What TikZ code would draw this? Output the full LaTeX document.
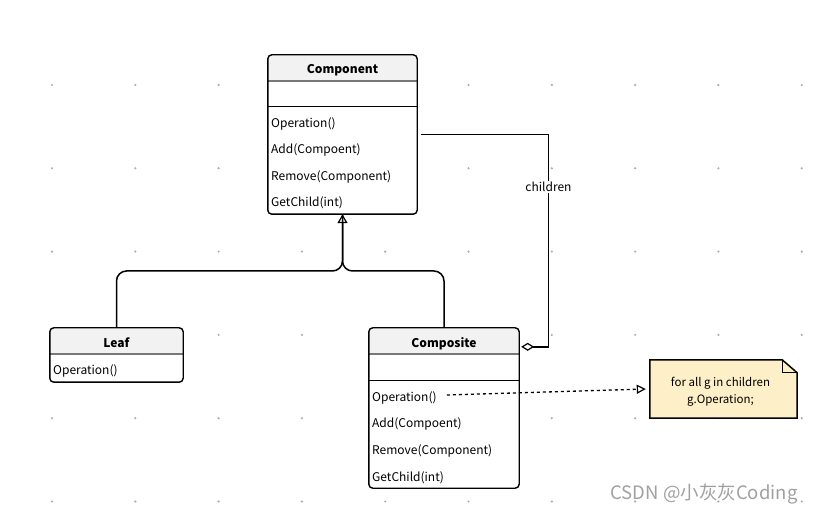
\documentclass[tikz,border=0pt]{standalone}
\usepackage{fontspec}
\setmainfont{Noto Sans CJK SC}
\usetikzlibrary{arrows.meta,calc}
\definecolor{headgray}{RGB}{242,242,242}
\definecolor{sepgray}{RGB}{120,120,120}
\definecolor{notefill}{RGB}{253,240,200}
\definecolor{dotgray}{RGB}{170,170,180}
\definecolor{markgray}{RGB}{160,160,160}
\tikzset{
  classbox/.style={fill=white, inner sep=0pt},
  boxline/.style={line width=1.4pt, rounded corners=4pt},
  sepline/.style={line width=1.8pt, sepgray},
  ctitle/.style={inner sep=0pt, font=\fontsize{12}{14}\selectfont\bfseries},
  cmethod/.style={anchor=west, inner sep=0pt, font=\fontsize{12}{14}\selectfont},
  conn/.style={line width=1.5pt},
}
\begin{document}
\begin{tikzpicture}[x=1pt,y=-1pt]
\useasboundingbox (0,0) rectangle (815,513);
\foreach \i in {0,...,9}
  \foreach \j in {0,...,5}
    \fill[dotgray] ({52+83.3*\i},{85+83.3*\j}) circle (1.2pt);

% Component
\node[classbox, minimum width=149pt, minimum height=159pt] (comp) at (342.5,134.5) {};
\begin{scope}
  \clip[rounded corners=4pt] (comp.north west) rectangle (comp.south east);
  \fill[headgray] (comp.north west) rectangle ($(comp.north east)+(0,26)$);
\end{scope}
\draw[sepline] ($(comp.north west)+(0,26)$) -- ($(comp.north east)+(0,26)$);
\draw[line width=1.4pt] ($(comp.north west)+(0,52)$) -- ($(comp.north east)+(0,52)$);
\draw[boxline] (comp.north west) rectangle (comp.south east);
\node[ctitle] (comp-title) at ($(comp.north)+(0,15)$) {Component};
\node[cmethod] (comp-op) at (271,124) {Operation()};
\node[cmethod] (comp-add) at (271,150) {Add(Compoent)};
\node[cmethod] (comp-rm) at (271,177) {Remove(Component)};
\node[cmethod] (comp-get) at (271,203) {GetChild(int)};

% Leaf
\node[classbox, minimum width=133pt, minimum height=54pt] (leaf) at (116.5,355) {};
\begin{scope}
  \clip[rounded corners=4pt] (leaf.north west) rectangle (leaf.south east);
  \fill[headgray] (leaf.north west) rectangle ($(leaf.north east)+(0,26)$);
\end{scope}
\draw[sepline] ($(leaf.north west)+(0,26)$) -- ($(leaf.north east)+(0,26)$);
\draw[boxline] (leaf.north west) rectangle (leaf.south east);
\node[ctitle] (leaf-title) at ($(leaf.north)+(0,15)$) {Leaf};
\node[cmethod] (leaf-op) at (53,371) {Operation()};

% Composite
\node[classbox, minimum width=150pt, minimum height=160pt] (compo) at (444,408) {};
\begin{scope}
  \clip[rounded corners=4pt] (compo.north west) rectangle (compo.south east);
  \fill[headgray] (compo.north west) rectangle ($(compo.north east)+(0,26)$);
\end{scope}
\draw[sepline] ($(compo.north west)+(0,26)$) -- ($(compo.north east)+(0,26)$);
\draw[line width=1.4pt] ($(compo.north west)+(0,53)$) -- ($(compo.north east)+(0,53)$);
\draw[boxline] (compo.north west) rectangle (compo.south east);
\node[ctitle] (compo-title) at ($(compo.north)+(0,16)$) {Composite};
\node[cmethod] (compo-op) at (372,398) {Operation()};
\node[cmethod] (compo-add) at (372,424) {Add(Compoent)};
\node[cmethod] (compo-rm) at (372,451) {Remove(Component)};
\node[cmethod] (compo-get) at (372,478) {GetChild(int)};

% note
\node[minimum width=147pt, minimum height=58pt, inner sep=0pt] (note) at (723.5,389) {};
\fill[notefill] (note.north west) -- ($(note.north east)+(-15,0)$) -- ($(note.north east)+(0,13)$) -- (note.south east) -- (note.south west) -- cycle;
\draw[line width=1.5pt] (note.north west) -- ($(note.north east)+(-15,0)$) -- ($(note.north east)+(0,13)$) -- (note.south east) -- (note.south west) -- cycle;
\draw[line width=1.2pt] ($(note.north east)+(-15,0)$) -- ($(note.north east)+(-15,13)$) -- ($(note.north east)+(0,13)$);
\node[align=center, inner sep=0pt, font=\fontsize{11.5}{17}\selectfont] (note-text) at ($(note.center)+(-3,3)$) {for all g in children\\g.Operation;};

% inheritance
\coordinate (join) at (342.5,271);
\draw[conn, rounded corners=10pt] (compo.north) |- (join) -- (comp.south);
\draw[conn, rounded corners=10pt, -{Triangle[open, length=9pt, width=10pt, line width=1.2pt]}] (leaf.north) |- (join) -- (comp.south);

% children
\coordinate (chstart) at ([xshift=4pt]comp.east);
\coordinate (chturn) at (548.5,134.5);
\coordinate (chend) at ($(compo.north east)+(2,19)$);
\draw[conn, -{Diamond[open, length=13pt, width=8pt, line width=1.2pt]}] (chstart) -- (chturn) |- (chend);
\node[fill=white, inner sep=1.5pt, font=\fontsize{12}{14}\selectfont] (ch-label) at (548.5,187) {children};

% dependency
\draw[line width=1.3pt, dash pattern=on 3pt off 3pt, -{Triangle[open, length=9pt, width=9pt, line width=1.2pt]}] ($(compo-op.east)+(10,-3)$) -- ([xshift=-4pt]note.west);

\node[text=markgray, font=\fontsize{18.5}{20}\selectfont] (mark) at (704,494) {CSDN @小灰灰Coding};
\end{tikzpicture}
\end{document}
